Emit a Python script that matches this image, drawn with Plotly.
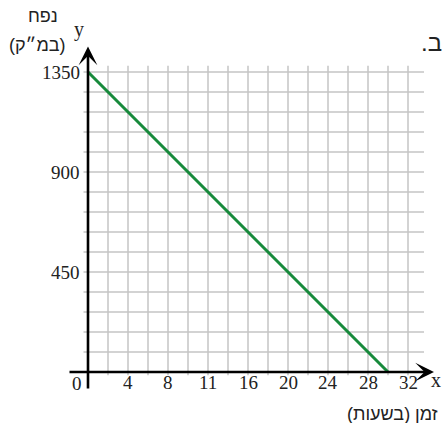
import plotly.graph_objects as go

# data
hours = [0, 30]
volume = [1350, 0]
x_tick_vals = [4, 8, 12, 16, 20, 24, 28, 32]
x_tick_text = ["4", "8", "11", "16", "20", "24", "28", "32"]
y_tick_vals = [450, 900, 1350]
y_tick_text = ["450", "900", "1350"]
x_grid = list(range(2, 33, 2))
y_grid = list(range(90, 1351, 90))

SERIF = "Liberation Serif"
SANS = "Liberation Sans"
GRID = "#c4c4c4"
NUM_SIZE = 19
HEB_SIZE = 18

L, T, PW, PH = 68, 42, 370, 350
W, H = 443, 423

fig = go.Figure()

shapes = []
for gx in x_grid:
    shapes.append(dict(type="line", xref="x", yref="y", x0=gx, x1=gx, y0=-15, y1=1378,
                       line=dict(color=GRID, width=1.5), layer="below"))
for gy in y_grid:
    shapes.append(dict(type="line", xref="x", yref="y", x0=-0.45, x1=33.6, y0=gy, y1=gy,
                       line=dict(color=GRID, width=1.5), layer="below"))

fig.add_trace(go.Scatter(x=hours, y=volume, mode="lines",
                         line=dict(color="#178a3c", width=3), hoverinfo="skip",
                         cliponaxis=False))

ann = []
ann.append(dict(x=34.6, y=0, ax=-2, ay=0, xref="x", yref="y", axref="x", ayref="y",
                showarrow=True, arrowhead=3, arrowsize=1.2, arrowwidth=2.6, arrowcolor="black", text=""))
ann.append(dict(x=0, y=1465, ax=0, ay=-81, xref="x", yref="y", axref="x", ayref="y",
                showarrow=True, arrowhead=3, arrowsize=1.2, arrowwidth=2.6, arrowcolor="black", text=""))

for v, t in zip(x_tick_vals, x_tick_text):
    ann.append(dict(x=v, y=0, xref="x", yref="y", text=t, showarrow=False,
                    xanchor="center", yanchor="top", yshift=2,
                    font=dict(family=SERIF, size=NUM_SIZE, color="#222")))
for v, t in zip(y_tick_vals, y_tick_text):
    ann.append(dict(x=0, y=v, xref="x", yref="y", text=t, showarrow=False,
                    xanchor="right", yanchor="middle", xshift=-6,
                    font=dict(family=SERIF, size=NUM_SIZE, color="#222")))
ann.append(dict(x=0, y=0, xref="x", yref="y", text="0", showarrow=False,
                xanchor="right", yanchor="top", xshift=-4, yshift=1,
                font=dict(family=SERIF, size=NUM_SIZE, color="#222")))


def px(xp, yp):
    """target-picture pixel -> paper coords"""
    return (xp - L) / PW, 1 - (yp - T) / PH


def free_text(xp, yp, text, fam, size):
    x, y = px(xp, yp)
    ann.append(dict(x=x, y=y, xref="paper", yref="paper", text=text, showarrow=False,
                    xanchor="center", yanchor="middle",
                    font=dict(family=fam, size=size, color="#222")))


free_text(79, 29, "y", SERIF, 20)
free_text(436, 380, "x", SERIF, 20)
free_text(43, 16, "\u200fנפח\u200f", SANS, HEB_SIZE)
free_text(37, 45, "\u200f(במ״ק)\u200f", SANS, HEB_SIZE)
free_text(392, 414, "\u200fזמן (בשעות)\u200f", SANS, HEB_SIZE)
free_text(431, 42, "\u200fב.\u200f", SANS, 24)

fig.update_layout(
    width=W, height=H,
    margin=dict(l=L, r=W - L - PW, t=T, b=H - T - PH),
    paper_bgcolor="white", plot_bgcolor="white",
    showlegend=False,
    shapes=shapes, annotations=ann,
    xaxis=dict(range=[-2, 35], visible=False, fixedrange=True),
    yaxis=dict(range=[-90, 1485], visible=False, fixedrange=True),
)

fig.write_html("out.html", config={"displayModeBar": False},
               post_script="document.body.style.margin='0px';document.body.style.overflow='hidden';")
